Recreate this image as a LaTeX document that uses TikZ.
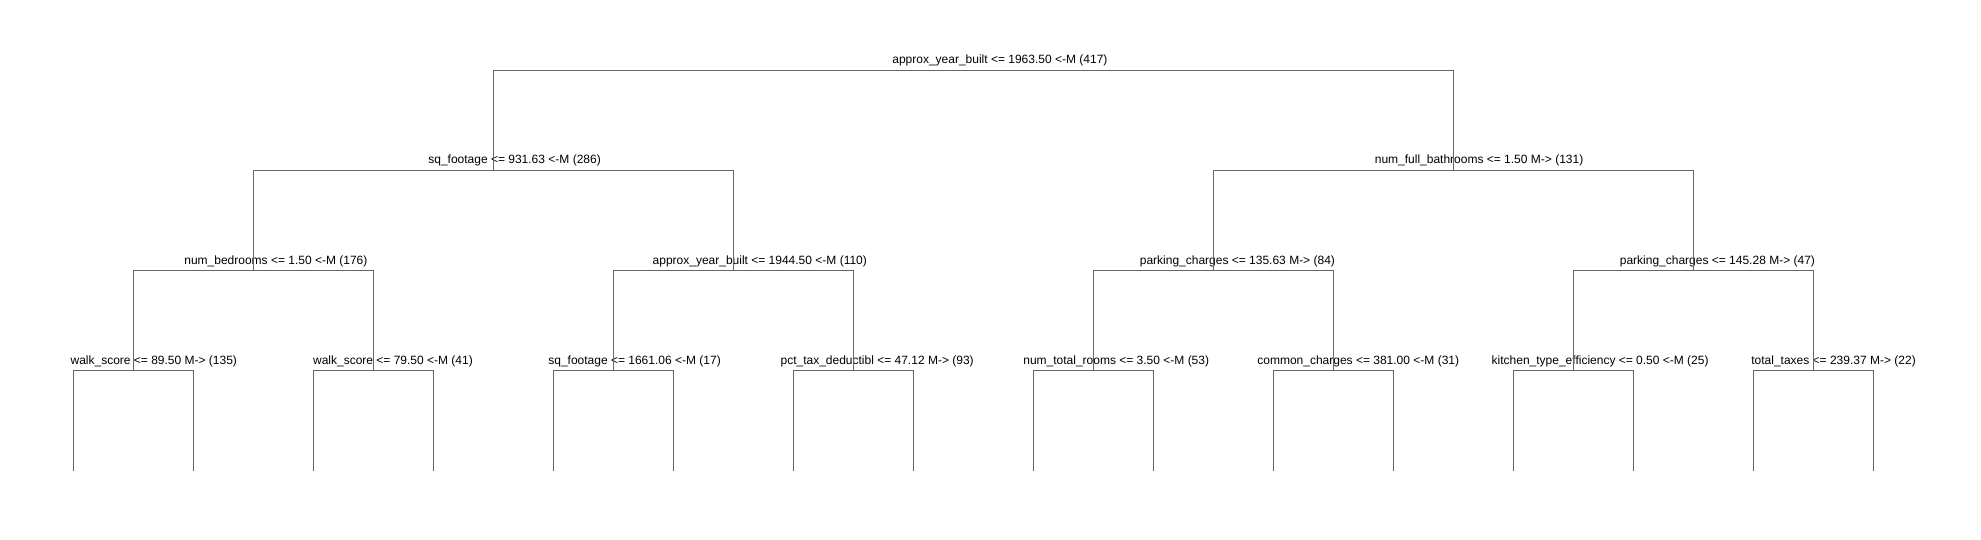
\documentclass[tikz,border=0pt]{standalone}
\usepackage{fontspec}
\setmainfont{Liberation Sans}
\newcommand{\labfont}{\fontsize{12}{14}\selectfont}
\begin{document}
\begin{tikzpicture}[x=1pt,y=-1pt,
  branch/.style={draw=black!60,line width=1pt},
  splitlab/.style={font=\labfont,inner sep=0pt,anchor=base,yshift=6.5pt}]
  \useasboundingbox (0,0) rectangle (1981,540);

  % split points with their labels
  \foreach \n/\x/\y/\txt in {
    1/973/70.5/{approx\_year\_built <= 1963.50 <-M (417)},
    2/493/170.5/{sq\_footage <= 931.63 <-M (286)},
    3/1453/170.5/{num\_full\_bathrooms <= 1.50 M-> (131)},
    4/253/270.5/{num\_bedrooms <= 1.50 <-M (176)},
    5/733/270.5/{approx\_year\_built <= 1944.50 <-M (110)},
    6/1213/270.5/{parking\_charges <= 135.63 M-> (84)},
    7/1693/270.5/{parking\_charges <= 145.28 M-> (47)},
    8/133/370.5/{walk\_score <= 89.50 M-> (135)},
    9/373/370.5/{walk\_score <= 79.50 <-M (41)},
    10/613/370.5/{sq\_footage <= 1661.06 <-M (17)},
    11/853/370.5/{pct\_tax\_deductibl <= 47.12 M-> (93)},
    12/1093/370.5/{num\_total\_rooms <= 3.50 <-M (53)},
    13/1333/370.5/{common\_charges <= 381.00 <-M (31)},
    14/1573/370.5/{kitchen\_type\_efficiency <= 0.50 <-M (25)},
    15/1813/370.5/{total\_taxes <= 239.37 M-> (22)}}
  {
    \coordinate (n\n) at (\x,\y);
    \node[splitlab] (t\n) at (n\n) {\makebox[0.75\width][l]{\txt}};
  }

  % leaves
  \foreach \k in {0,...,15}
  {
    \pgfmathtruncatemacro{\n}{16+\k}
    \coordinate (n\n) at (73+120*\k,470.5);
  }

  % branches
  \foreach \p in {1,...,15}
  {
    \pgfmathtruncatemacro{\a}{2*\p}
    \pgfmathtruncatemacro{\b}{2*\p+1}
    \draw[branch] (n\a) |- (n\p) -| (n\b);
  }
\end{tikzpicture}
\end{document}
